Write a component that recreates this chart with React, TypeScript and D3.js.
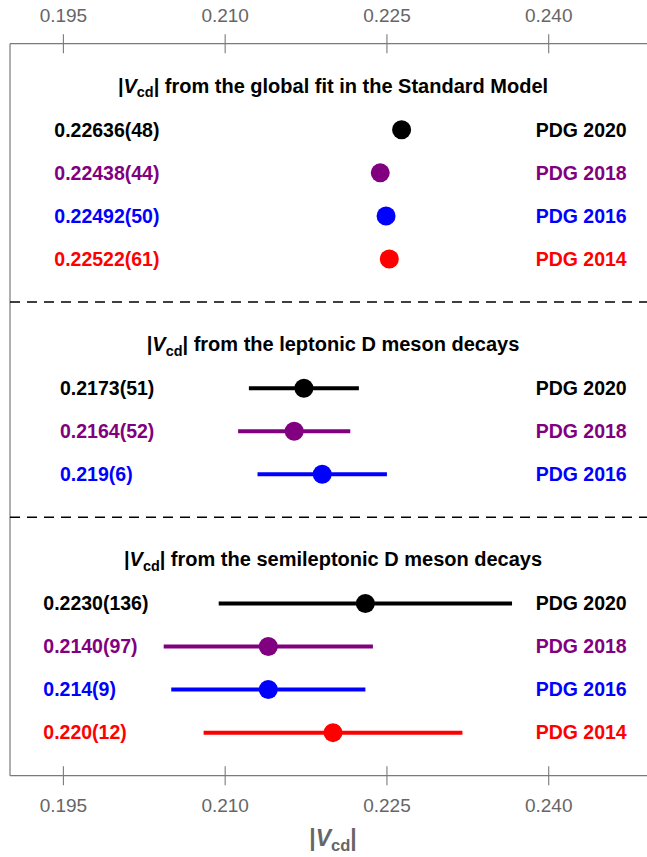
import * as d3 from 'd3';

// x axis ticks
const xTicks = [0.195, 0.21, 0.225, 0.24];
const xTickLabels = ['0.195', '0.210', '0.225', '0.240'];

// editions and colours
const editions = ['PDG 2020', 'PDG 2018', 'PDG 2016', 'PDG 2014'];
const editionColors = ['#000000', '#800080', '#0000ff', '#ff0000'];

// global fit in the SM
const globalValues = [0.22636, 0.22438, 0.22492, 0.22522];
const globalErrors = [0.00048, 0.00044, 0.0005, 0.00061];
const globalTexts = ['0.22636(48)', '0.22438(44)', '0.22492(50)', '0.22522(61)'];

// leptonic D decays (2020, 2018, 2016)
const leptonicValues = [0.2173, 0.2164, 0.219];
const leptonicErrors = [0.0051, 0.0052, 0.006];
const leptonicTexts = ['0.2173(51)', '0.2164(52)', '0.219(6)'];

// semileptonic D decays (2020 .. 2014)
const semiValues = [0.223, 0.214, 0.214, 0.22];
const semiErrors = [0.0136, 0.0097, 0.009, 0.012];
const semiTexts = ['0.2230(136)', '0.2140(97)', '0.214(9)', '0.220(12)'];

const titles = [
  ' from the global fit in the Standard Model',
  ' from the leptonic D meson decays',
  ' from the semileptonic D meson decays',
];

const W = 647;
const H = 857;

export default function App() {
  const x = d3.scaleLinear().domain([0.195, 0.24]).range([63.4, 548.7]);
  const y = d3.scaleLinear().domain([-1, 16]).range([43.68, 775.7]);

  const frameLeft = 10;
  const frameTop = y(-1);
  const frameBottom = y(16);
  const axisGray = '#7a7a7a';
  const labelGray = '#666666';
  const font = "'Liberation Sans', Arial, sans-serif";
  const fs = 19.5;
  const tfs = 20;

  const sections = [
    { title: titles[0], start: 0, values: globalValues, errors: globalErrors, texts: globalTexts, labelX: 54.3 },
    { title: titles[1], start: 6, values: leptonicValues, errors: leptonicErrors, texts: leptonicTexts, labelX: 60 },
    { title: titles[2], start: 11, values: semiValues, errors: semiErrors, texts: semiTexts, labelX: 43.3 },
  ];
  const dashRows = [5, 10];

  const vcd = (size: number) => (
    <>
      <tspan>|</tspan>
      <tspan fontStyle="italic">V</tspan>
      <tspan fontSize={size * 0.72} dy={size * 0.22}>cd</tspan>
      <tspan dy={-size * 0.22}>|</tspan>
    </>
  );

  return (
    <svg width={W} height={H} style={{ position: 'absolute', left: 0, top: 0, background: '#fff' }} fontFamily={font}>
      {/* frame */}
      <line x1={frameLeft} x2={W + 10} y1={frameTop} y2={frameTop} stroke={axisGray} strokeWidth={1.2} />
      <line x1={frameLeft} x2={W + 10} y1={frameBottom} y2={frameBottom} stroke={axisGray} strokeWidth={1.2} />
      <line x1={frameLeft} x2={frameLeft} y1={frameTop} y2={frameBottom} stroke={axisGray} strokeWidth={1.2} />

      {/* ticks */}
      {xTicks.map((t, i) => (
        <g key={'t' + i}>
          <line x1={x(t)} x2={x(t)} y1={frameTop - 9.5} y2={frameTop + 9.5} stroke={axisGray} strokeWidth={1.1} />
          <line x1={x(t)} x2={x(t)} y1={frameBottom - 9.5} y2={frameBottom + 9.5} stroke={axisGray} strokeWidth={1.1} />
          <text x={x(t)} y={22} textAnchor="middle" fontSize={19} fill={labelGray}>{xTickLabels[i]}</text>
          <text x={x(t)} y={812} textAnchor="middle" fontSize={19} fill={labelGray}>{xTickLabels[i]}</text>
        </g>
      ))}

      {/* axis title */}
      <text x={x(0.22)} y={846} textAnchor="middle" fontSize={23} fontWeight="bold" fill={labelGray}>
        {vcd(23)}
      </text>

      {/* dashed separators */}
      {dashRows.map((r) => (
        <line key={'d' + r} x1={frameLeft} x2={W} y1={y(r)} y2={y(r)} stroke="#000" strokeWidth={1.5} strokeDasharray="10,7" />
      ))}

      {sections.map((s, si) => (
        <g key={'s' + si}>
          <text x={x(0.22)} y={y(s.start) + tfs * 0.3} textAnchor="middle" fontSize={tfs} fontWeight="bold" fill="#000">
            {vcd(tfs)}
            <tspan>{s.title}</tspan>
          </text>
          {s.values.map((v, i) => {
            const cy = y(s.start + 1 + i);
            const c = editionColors[i];
            return (
              <g key={'r' + i}>
                <line x1={x(v - s.errors[i])} x2={x(v + s.errors[i])} y1={cy} y2={cy} stroke={c} strokeWidth={4} />
                <circle cx={x(v)} cy={cy} r={9.5} fill={c} />
                <text x={s.labelX} y={cy + fs * 0.35} fontSize={fs} fontWeight="bold" fill={c}>{s.texts[i]}</text>
                <text x={626.7} y={cy + fs * 0.35} textAnchor="end" fontSize={fs} fontWeight="bold" fill={c}>{editions[i]}</text>
              </g>
            );
          })}
        </g>
      ))}
    </svg>
  );
}
